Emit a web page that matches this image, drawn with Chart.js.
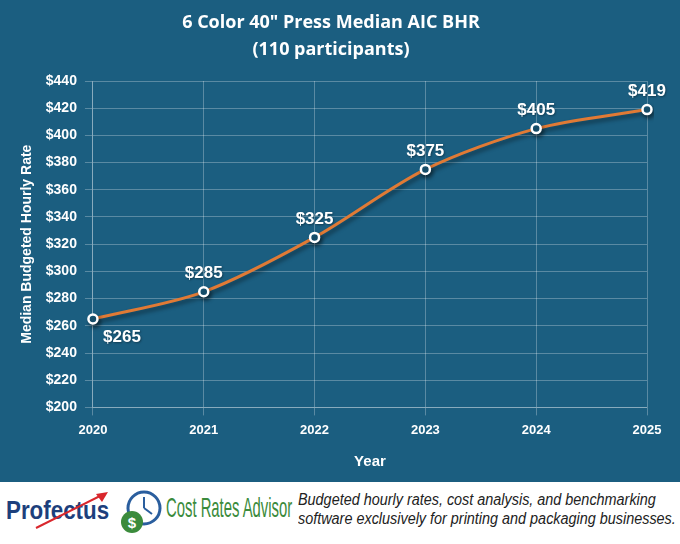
<!DOCTYPE html>
<html>
<head>
<meta charset="utf-8">
<script src="https://cdn.jsdelivr.net/npm/chart.js@4"></script>
<style>
  html, body { margin: 0; padding: 0; background: #fff; }
  #wrap { width: 680px; height: 482px; background: #1b5e80; position: relative; }
  #footer { width: 680px; height: 62px; background: #fff; position: relative; overflow: hidden; }
  .sq { position: absolute; white-space: nowrap; transform-origin: left top; }
  .prof { left: 6px; top: 13px; font: bold 26px "Liberation Sans", Arial, sans-serif; color: #1d3f7c; transform: scaleX(0.86); }
  .cra { left: 166px; top: 10px; font: 28px "Liberation Sans", sans-serif; color: #3b8b3c; transform: scaleX(0.53); }
  .tag { left: 298px; top: 8px; font: italic 16px "Liberation Sans", sans-serif; color: #222; line-height: 19px; transform: scaleX(0.9); }
  svg { position: absolute; }
</style>
</head>
<body>
<div id="wrap"><canvas id="c" width="680" height="482"></canvas></div>
<div id="footer">
  <div class="sq prof">Profectus</div>
  <svg style="left:16px;top:4px" width="100" height="50"><line x1="20" y1="42" x2="88" y2="8" stroke="#d9262c" stroke-width="2"/><polygon points="92,6 80,8 86,16" fill="#d9262c"/></svg>
  <svg style="left:118px;top:6px" width="48" height="52">
    <circle cx="26" cy="20" r="16" fill="none" stroke="#2a5e9e" stroke-width="3"/>
    <line x1="26" y1="20" x2="26" y2="9" stroke="#2a5e9e" stroke-width="2"/>
    <line x1="26" y1="20" x2="34" y2="26" stroke="#2a5e9e" stroke-width="2"/>
    <circle cx="14" cy="34" r="11" fill="#3b8b3c"/>
    <text x="14" y="39.5" text-anchor="middle" font-family="Liberation Sans" font-weight="bold" font-size="15" fill="#fff">$</text>
  </svg>
  <div class="sq cra">Cost Rates Advisor</div>
  <div class="sq tag">Budgeted hourly rates, cost analysis, and benchmarking<br>software exclusively for printing and packaging businesses.</div>
</div>
<script>
var years = ["2020", "2021", "2022", "2023", "2024", "2025"];
var medianBHR = [265, 285, 325, 375, 405, 419];
var yMin = 200, yMax = 440, yStep = 20;

var axisFont = '"Liberation Sans", Arial, sans-serif';

// draws "$265" etc next to each point
var valueLabels = {
  id: 'valueLabels',
  afterDatasetsDraw: function(chart) {
    var ctx = chart.ctx;
    var meta = chart.getDatasetMeta(0);
    ctx.save();
    ctx.font = 'bold 17px "Liberation Sans", Arial, sans-serif';
    ctx.fillStyle = '#ffffff';
    ctx.textAlign = 'center';
    ctx.shadowColor = 'rgba(0,0,0,0.35)';
    ctx.shadowOffsetX = 1;
    ctx.shadowOffsetY = 1;
    ctx.shadowBlur = 2;
    meta.data.forEach(function(pt, i) {
      var txt = '$' + medianBHR[i];
      if (i === 0) {
        ctx.textBaseline = 'top';
        ctx.fillText(txt, pt.x + 29, pt.y + 10);
      } else {
        ctx.textBaseline = 'bottom';
        ctx.fillText(txt, pt.x, pt.y - 10);
      }
    });
    ctx.restore();
  }
};

// soft shadow under the line
var lineShadow = {
  id: 'lineShadow',
  beforeDatasetsDraw: function(chart) {
    chart.ctx.save();
    chart.ctx.shadowColor = 'rgba(0,0,0,0.45)';
    chart.ctx.shadowBlur = 4;
    chart.ctx.shadowOffsetX = 2;
    chart.ctx.shadowOffsetY = 3;
  },
  afterDatasetsDraw: function(chart) {
    chart.ctx.restore();
  }
};

new Chart(document.getElementById('c'), {
  type: 'line',
  data: {
    labels: years,
    datasets: [{
      data: medianBHR,
      borderColor: '#e07a35',
      borderWidth: 3,
      tension: 0.3,
      pointRadius: 4.5,
      pointBorderWidth: 2.5,
      pointBorderColor: '#ffffff',
      pointBackgroundColor: '#1b5e80'
    }]
  },
  options: {
    responsive: false,
    animation: false,
    layout: { padding: { left: 15, right: 33, top: 5, bottom: 7 } },
    plugins: {
      legend: { display: false },
      tooltip: { enabled: false },
      title: {
        display: true,
        text: ['6 Color 40" Press Median AIC BHR', '(110 participants)'],
        color: '#ffffff',
        font: { family: '"Open Sans", sans-serif', size: 18, weight: 'bold', lineHeight: 1.5 },
        padding: { top: 4, bottom: 18 }
      }
    },
    scales: {
      x: {
        offset: false,
        grid: { color: 'rgba(255,255,255,0.28)', lineWidth: 1 },
        border: { color: 'rgba(255,255,255,0.28)' },
        ticks: { color: '#ffffff', font: { family: axisFont, size: 13, weight: 'bold' }, padding: 7 },
        title: { display: true, text: 'Year', color: '#ffffff', font: { family: axisFont, size: 15, weight: 'bold' }, padding: { top: 8 } }
      },
      y: {
        min: yMin, max: yMax,
        grid: { color: 'rgba(255,255,255,0.28)', lineWidth: 1 },
        border: { color: 'rgba(255,255,255,0.28)' },
        ticks: {
          stepSize: yStep,
          color: '#ffffff',
          font: { family: axisFont, size: 14, weight: 'bold' },
          padding: 8,
          callback: function(v) { return '$' + v; }
        },
        title: { display: true, text: 'Median Budgeted Hourly Rate', color: '#ffffff', font: { family: axisFont, size: 14, weight: 'bold' }, padding: { bottom: 2 } }
      }
    }
  },
  plugins: [lineShadow, valueLabels]
});
</script>
</body>
</html>
